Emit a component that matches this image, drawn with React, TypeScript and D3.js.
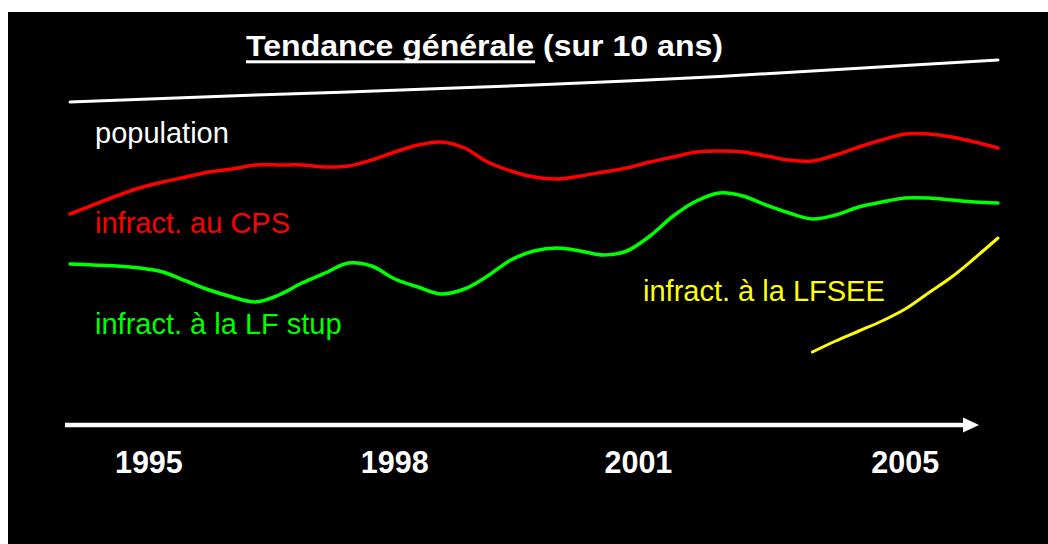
import React from "react";
import * as d3 from "d3";

// sample index 0..40 along the time axis
const popIdx = [0, 4, 8, 12, 16, 20, 24, 28, 32, 36, 40];
const population = [348, 351.5, 355, 358, 361.5, 365, 369, 373.5, 379, 384.5, 390];

const cps = [236, 245, 254, 262, 268, 273, 278, 281, 285, 285, 285, 283, 284, 290, 298, 305, 308, 302, 288, 279, 273, 271, 274, 278, 282, 288, 293, 298, 299, 298, 294, 290, 289, 295, 303, 310, 316, 316, 313, 308, 302];

const stup = [186, 185, 184, 182, 178, 169, 160, 153, 148, 155, 167, 177, 187, 184, 171, 163, 156, 161, 174, 190, 199, 202, 199, 195, 199, 214, 234, 249, 257, 254, 245, 237, 231, 235, 243, 248, 252, 252, 250, 248, 247];

const lfseeStart = 32;
const lfsee = [98, 109, 119, 129, 141, 157, 173, 192, 212];

const yearLabels = ["1995", "1998", "2001", "2005"];
const yearIdx = [3.4, 14.0, 24.5, 36.0];

const seriesLabels = ["population", "infract. au CPS", "infract. à la LF stup", "infract. à la LFSEE"];

export default function App() {
  const W = 1048, H = 544;
  const x = d3.scaleLinear().domain([0, 40]).range([70, 998]);
  const y = d3.scaleLinear().domain([0, 400]).range([450, 50]);

  const line = d3
    .line<[number, number]>()
    .x((d) => x(d[0]))
    .y((d) => y(d[1]))
    .curve(d3.curveCatmullRom.alpha(0.5));
  const straight = d3
    .line<[number, number]>()
    .x((d) => x(d[0]))
    .y((d) => y(d[1]));

  const popPts = population.map((v, i) => [popIdx[i], v] as [number, number]);
  const cpsPts = cps.map((v, i) => [i, v] as [number, number]);
  const stupPts = stup.map((v, i) => [i, v] as [number, number]);
  const lfseePts = lfsee.map((v, i) => [lfseeStart + i, v] as [number, number]);

  const font = "Liberation Sans, Arial, Helvetica, sans-serif";
  const axisY = 425;

  return (
    <svg
      width={W}
      height={H}
      style={{ position: "absolute", left: 0, top: 0, display: "block" }}
    >
      <rect x={0} y={0} width={W} height={H} fill="#ffffff" />
      <rect x={8} y={12} width={W - 8} height={H - 12} fill="#000000" />

      {/* title */}
      <text
        x={246}
        y={55.5}
        fill="#ffffff"
        fontFamily={font}
        fontWeight="bold"
        fontSize={29}
        textLength={477}
        lengthAdjust="spacingAndGlyphs"
      >
        Tendance générale (sur 10 ans)
      </text>
      <rect x={246} y={60.3} width={289} height={3} fill="#ffffff" />

      {/* lines */}
      <path d={straight(popPts) || ""} fill="none" stroke="#ffffff" strokeWidth={3} strokeLinecap="round" />
      <path d={line(cpsPts) || ""} fill="none" stroke="#ff0000" strokeWidth={3.5} strokeLinecap="round" />
      <path d={line(stupPts) || ""} fill="none" stroke="#00ff00" strokeWidth={3.5} strokeLinecap="round" />
      <path d={line(lfseePts) || ""} fill="none" stroke="#ffff00" strokeWidth={3} strokeLinecap="round" />

      {/* series labels */}
      <text x={95} y={143} fill="#ffffff" fontFamily={font} fontSize={29}>{seriesLabels[0]}</text>
      <text x={95} y={233} fill="#ff0000" fontFamily={font} fontSize={29}>{seriesLabels[1]}</text>
      <text x={95} y={334} fill="#00ff00" fontFamily={font} fontSize={29}>{seriesLabels[2]}</text>
      <text x={643} y={301} fill="#ffff00" fontFamily={font} fontSize={29}>{seriesLabels[3]}</text>

      {/* axis arrow */}
      <line x1={65} x2={965} y1={axisY} y2={axisY} stroke="#ffffff" strokeWidth={4.3} />
      <path d={`M963,${axisY - 7.5} L979,${axisY} L963,${axisY + 7.5} Z`} fill="#ffffff" />

      {yearLabels.map((lab, i) => (
        <text
          key={lab}
          x={x(yearIdx[i])}
          y={473}
          textAnchor="middle"
          fill="#ffffff"
          fontFamily={font}
          fontWeight="bold"
          fontSize={30.5}
        >
          {lab}
        </text>
      ))}
    </svg>
  );
}
